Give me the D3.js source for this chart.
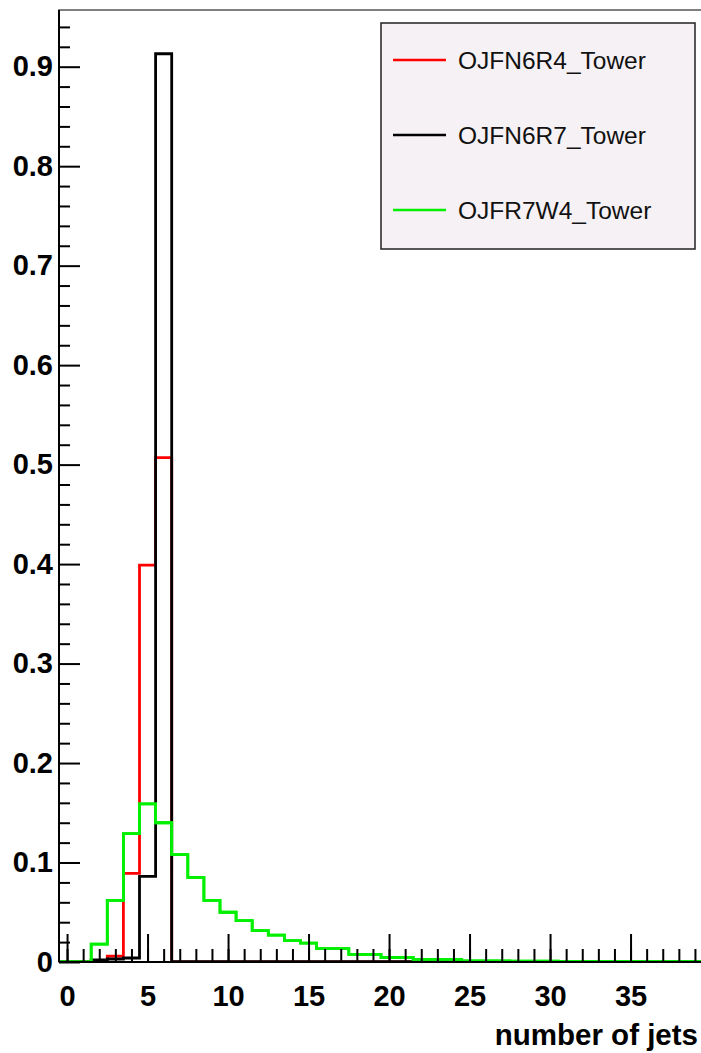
<!DOCTYPE html>
<html>
<head>
<meta charset="utf-8">
<script src="https://cdn.jsdelivr.net/npm/d3@7"></script>
<style>
  body { margin: 0; background: #fff; }
  svg { display: block; }
  text { font-family: "Liberation Sans", Arial, Helvetica, sans-serif; }
</style>
</head>
<body>
<svg id="chart"></svg>
<script>
var width = 701;
var height = 1053;

// bin centres (number of jets)
var nJets = [0,1,2,3,4,5,6,7,8,9,10,11,12,13,14,15,16,17,18,19,
             20,21,22,23,24,25,26,27,28,29,30,31,32,33,34,35,36,37,38,39];

var seriesNames = ['OJFN6R4_Tower', 'OJFN6R7_Tower', 'OJFR7W4_Tower'];
var seriesColors = ['#ff0000', '#000000', '#00f000'];

var redVals = [0,0,0,0.006,0.089,0.399,0.507,0,0,0,0,0,0,0,0,0,0,0,0,0,
               0,0,0,0,0,0,0,0,0,0,0,0,0,0,0,0,0,0,0,0];
var blackVals = [0,0,0.002,0.003,0.004,0.086,0.913,0.0003,0.0003,0.0003,0.0003,0.0003,0.0003,0.0003,0.0003,0.0003,0.0003,0.0003,0.0003,0.0003,
                 0.0003,0.0003,0,0,0,0,0,0,0,0,0,0,0,0,0,0,0,0,0,0];
var greenVals = [0,0,0.018,0.062,0.129,0.159,0.140,0.108,0.085,0.062,0.050,0.0416,0.0315,0.027,0.0215,0.019,0.0134,0.0134,0.0077,0.0077,
                 0.0045,0.0045,0.0027,0.0027,0.0027,0.0012,0.001,0.001,0.0009,0.0008,0.0008,0.0007,0.0006,0.0006,0.0005,0.0005,0.0004,0.0004,0.0003,0.0003];

var xMajorTicks = [0,5,10,15,20,25,30,35];
var yMajorTicks = [0,0.1,0.2,0.3,0.4,0.5,0.6,0.7,0.8,0.9];

var padLeft = 59, padRight = 703, padTop = 10, padBottom = 962;

var x = d3.scaleLinear().domain([-0.5, 39.5]).range([padLeft, padRight]);
var y = d3.scaleLinear().domain([0, 0.957]).range([padBottom, padTop]);

var svg = d3.select('#chart')
    .attr('width', width)
    .attr('height', height);

svg.append('defs').append('clipPath')
    .attr('id', 'plotclip')
  .append('rect')
    .attr('x', padLeft).attr('y', padTop)
    .attr('width', padRight - padLeft).attr('height', padBottom - padTop);

// frame (top / right)
svg.append('rect')
    .attr('x', padLeft).attr('y', padTop)
    .attr('width', padRight - padLeft).attr('height', padBottom - padTop)
    .attr('fill', 'none')
    .attr('stroke', '#555')
    .attr('stroke-width', 1.5);

// histograms as step outlines
var line = d3.line()
    .x(d => x(d[0]))
    .y(d => y(d[1]))
    .curve(d3.curveStepAfter);

function stepPoints(vals){
  var pts = nJets.map((n, i) => [n - 0.5, vals[i]]);
  pts.push([nJets[nJets.length - 1] + 0.5, vals[vals.length - 1]]);
  return pts;
}

var hists = svg.append('g').attr('clip-path', 'url(#plotclip)');
[redVals, blackVals, greenVals].forEach(function(vals, i){
  hists.append('path')
      .attr('d', line(stepPoints(vals)))
      .attr('fill', 'none')
      .attr('stroke', seriesColors[i])
      .attr('stroke-width', 2.8);
});

// x axis
var xMinor = svg.append('g')
    .attr('transform', 'translate(0,' + padBottom + ')')
    .call(d3.axisBottom(x).tickValues(nJets).tickSize(-13).tickFormat(''));
xMinor.select('.domain').remove();

var xAxis = svg.append('g')
    .attr('transform', 'translate(0,' + padBottom + ')')
    .call(d3.axisBottom(x).tickValues(xMajorTicks).tickSize(-28).tickPadding(23).tickFormat(d3.format('d')));
xAxis.select('.domain').remove();
xAxis.selectAll('text')
    .attr('font-size', 29)
    .attr('font-weight', 'bold')
    .attr('fill', '#000');

// y axis
var yMinorVals = [];
yMajorTicks.forEach(function(t){
  [0.02, 0.04, 0.06, 0.08].forEach(s => yMinorVals.push(t + s));
});
var yMinor = svg.append('g')
    .attr('transform', 'translate(' + padLeft + ',0)')
    .call(d3.axisLeft(y).tickValues(yMinorVals.filter(v => v < 0.957)).tickSize(-11).tickFormat(''));
yMinor.select('.domain').remove();

var yAxis = svg.append('g')
    .attr('transform', 'translate(' + padLeft + ',0)')
    .call(d3.axisLeft(y).tickValues(yMajorTicks).tickSize(-21).tickPadding(6).tickFormat(d3.format('~g')));
yAxis.select('.domain').remove();
yAxis.selectAll('text')
    .attr('font-size', 29)
    .attr('font-weight', 'bold')
    .attr('fill', '#000');

svg.selectAll('.tick line')
    .attr('stroke', '#000')
    .attr('stroke-width', 2);

// axis lines
svg.append('line')
    .attr('x1', padLeft).attr('x2', padRight)
    .attr('y1', padBottom).attr('y2', padBottom)
    .attr('stroke', '#000').attr('stroke-width', 2);
svg.append('line')
    .attr('x1', padLeft).attr('x2', padLeft)
    .attr('y1', padTop).attr('y2', padBottom)
    .attr('stroke', '#000').attr('stroke-width', 2);

// green histogram goes back over the axis line like in the original
hists.append('path')
    .attr('d', line(stepPoints(greenVals)))
    .attr('fill', 'none')
    .attr('stroke', seriesColors[2])
    .attr('stroke-width', 2.8);

// x title
svg.append('text')
    .attr('x', 698)
    .attr('y', 1045)
    .attr('text-anchor', 'end')
    .attr('font-size', 29.5)
    .attr('font-weight', 'bold')
    .text('number of jets');

// legend
var legend = svg.append('g');
legend.append('rect')
    .attr('x', 381).attr('y', 23)
    .attr('width', 314).attr('height', 226)
    .attr('fill', '#f6f1f4')
    .attr('stroke', '#222')
    .attr('stroke-width', 1.5);

var entry = legend.selectAll('.entry')
    .data(seriesNames)
    .enter()
  .append('g')
    .attr('transform', (d, i) => 'translate(0,' + (60 + i * 75) + ')');

entry.append('line')
    .attr('x1', 393).attr('x2', 446)
    .attr('stroke', (d, i) => seriesColors[i])
    .attr('stroke-width', 2.5);

entry.append('text')
    .attr('x', 458)
    .attr('dy', '0.35em')
    .attr('font-size', 24.5)
    .attr('fill', '#111')
    .text(d => d);
</script>
</body>
</html>
